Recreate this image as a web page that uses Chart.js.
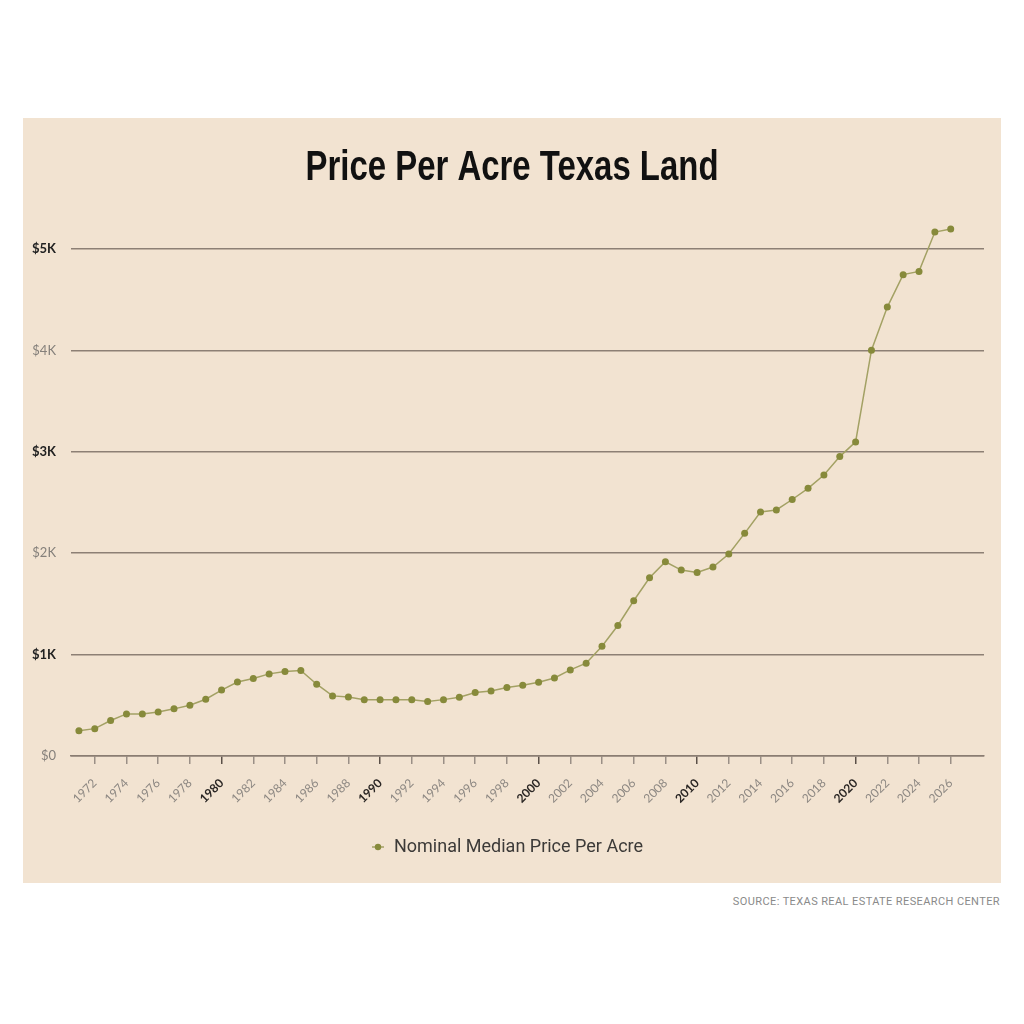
<!DOCTYPE html>
<html>
<head>
<meta charset="utf-8">
<script src="https://cdn.jsdelivr.net/npm/chart.js@4.4.1/dist/chart.umd.min.js"></script>
<style>
  html, body { margin: 0; padding: 0; background: #ffffff; width: 1024px; height: 1024px; overflow: hidden; }
  #box { position: absolute; left: 23px; top: 118px; width: 978px; height: 765px; background: #f2e3d1; }
  #source { position: absolute; right: 24px; top: 895px; font-family: Roboto, sans-serif; font-size: 11px; color: #8a8a8a; letter-spacing: 0.4px; }
</style>
</head>
<body>
<div id="box"><canvas id="c"></canvas></div>
<div id="source">SOURCE: TEXAS REAL ESTATE RESEARCH CENTER</div>
<script>
const years = [1971,1972,1973,1974,1975,1976,1977,1978,1979,1980,1981,1982,1983,1984,1985,1986,1987,1988,1989,1990,1991,1992,1993,1994,1995,1996,1997,1998,1999,2000,2001,2002,2003,2004,2005,2006,2007,2008,2009,2010,2011,2012,2013,2014,2015,2016,2017,2018,2019,2020,2021,2022,2023,2024,2025,2026];
const prices = [250,270,350,415,415,435,465,500,560,650,730,765,810,833,843,708,593,583,556,556,556,556,537,556,580,626,642,675,698,728,770,849,915,1083,1287,1531,1758,1916,1834,1810,1864,1992,2196,2407,2427,2530,2640,2772,2953,3098,4003,4428,4748,4780,5168,5198];
const xTicks = [1972,1974,1976,1978,1980,1982,1984,1986,1988,1990,1992,1994,1996,1998,2000,2002,2004,2006,2008,2010,2012,2014,2016,2018,2020,2022,2024,2026];
const yTicks = [0,1000,2000,3000,4000,5000];
const boldYTicks = [1000,3000,5000];
const seriesName = 'Nominal Median Price Per Acre';
const titleText = 'Price Per Acre Texas Land';

const gridColor = '#8d8075';
const pointColor = '#878a3b';
const lineColor = '#a3a164';
const titleFont = { family: '"Liberation Sans", Arial, sans-serif', size: 42, weight: 'bold' };
const titleTargetWidth = 413; // condensed look of the original headline
const isDecade = ctx => !!(ctx && ctx.tick && ctx.tick.value % 10 === 0);
const isBoldY = ctx => !!(ctx && ctx.tick && boldYTicks.includes(ctx.tick.value));

// legend marker: short line with a dot
const marker = document.createElement('canvas');
marker.width = 14; marker.height = 8;
(function () {
  const m = marker.getContext('2d');
  m.strokeStyle = lineColor; m.lineWidth = 1.5;
  m.beginPath(); m.moveTo(1, 4); m.lineTo(13, 4); m.stroke();
  m.fillStyle = pointColor;
  m.beginPath(); m.arc(7, 4, 3.2, 0, Math.PI * 2); m.fill();
})();

const chart = new Chart(document.getElementById('c'), {
  type: 'line',
  data: {
    datasets: [{
      label: seriesName,
      data: years.map((yr, i) => ({ x: yr, y: prices[i] })),
      borderColor: lineColor,
      borderWidth: 1.5,
      backgroundColor: pointColor,
      pointBackgroundColor: pointColor,
      pointBorderColor: pointColor,
      pointRadius: 3.5,
      pointBorderWidth: 0,
      tension: 0
    }]
  },
  options: {
    responsive: true,
    maintainAspectRatio: false,
    animation: false,
    layout: { padding: { left: 7, right: 17, top: 0, bottom: 17 } },
    plugins: {
      title: {
        display: true,
        text: titleText,
        color: '#111111',
        font: titleFont,
        padding: { top: 25, bottom: 5 }
      },
      legend: {
        display: true,
        position: 'bottom',
        labels: {
          color: '#3c3a38',
          font: { family: 'Roboto, sans-serif', size: 18 },
          usePointStyle: true,
          pointStyle: marker,
          boxWidth: 14,
          boxHeight: 8,
          padding: 10
        }
      },
      tooltip: { enabled: false }
    },
    scales: {
      x: {
        type: 'linear',
        min: 1970.5,
        max: 2028.1,
        afterBuildTicks: s => { s.ticks = xTicks.map(v => ({ value: v })); },
        afterFit: s => { s.height = 72; },
        grid: {
          drawOnChartArea: false,
          drawTicks: true,
          tickLength: 8,
          lineWidth: 1.5,
          color: ctx => isDecade(ctx) ? '#5b5048' : '#9a8f86'
        },
        border: { display: true, color: '#8a7d72', width: 1.5 },
        ticks: {
          autoSkip: false,
          minRotation: 45,
          maxRotation: 45,
          padding: 12,
          callback: v => String(v),
          color: ctx => isDecade(ctx) ? '#2a2624' : '#8c8782',
          font: ctx => ({ family: 'Lato, sans-serif', size: 12, weight: isDecade(ctx) ? 'bold' : 'normal' })
        }
      },
      y: {
        min: 0,
        max: 5500,
        afterBuildTicks: s => { s.ticks = yTicks.map(v => ({ value: v })); },
        afterFit: s => { s.width = 41; },
        grid: { drawTicks: false, color: gridColor, lineWidth: 1.5 },
        border: { display: false },
        ticks: {
          crossAlign: 'near',
          padding: 15,
          callback: v => v === 0 ? '$0' : '$' + (v / 1000) + 'K',
          color: ctx => isBoldY(ctx) ? '#222222' : '#85807b',
          font: ctx => ({ family: 'Lato, sans-serif', size: 13, weight: isBoldY(ctx) ? 'bold' : 'normal' })
        }
      }
    }
  }
});

// draw the title horizontally condensed (no condensed face is installed), centred on the panel
(function () {
  const tb = chart.titleBlock;
  if (!tb) return;
  const origDraw = tb.draw.bind(tb);
  tb.draw = function () {
    const ctx = this.ctx;
    ctx.save();
    ctx.font = `${titleFont.weight} ${titleFont.size}px ${titleFont.family}`;
    const w = ctx.measureText(titleText).width;
    const k = w > 0 ? Math.min(1, titleTargetWidth / w) : 1;
    const cx = (this.left + this.right) / 2;
    const target = chart.width / 2;
    ctx.translate(target, 0);
    ctx.scale(k, 1);
    ctx.translate(-cx, 0);
    origDraw();
    ctx.restore();
  };
  chart.draw();
})();
</script>
</body>
</html>
